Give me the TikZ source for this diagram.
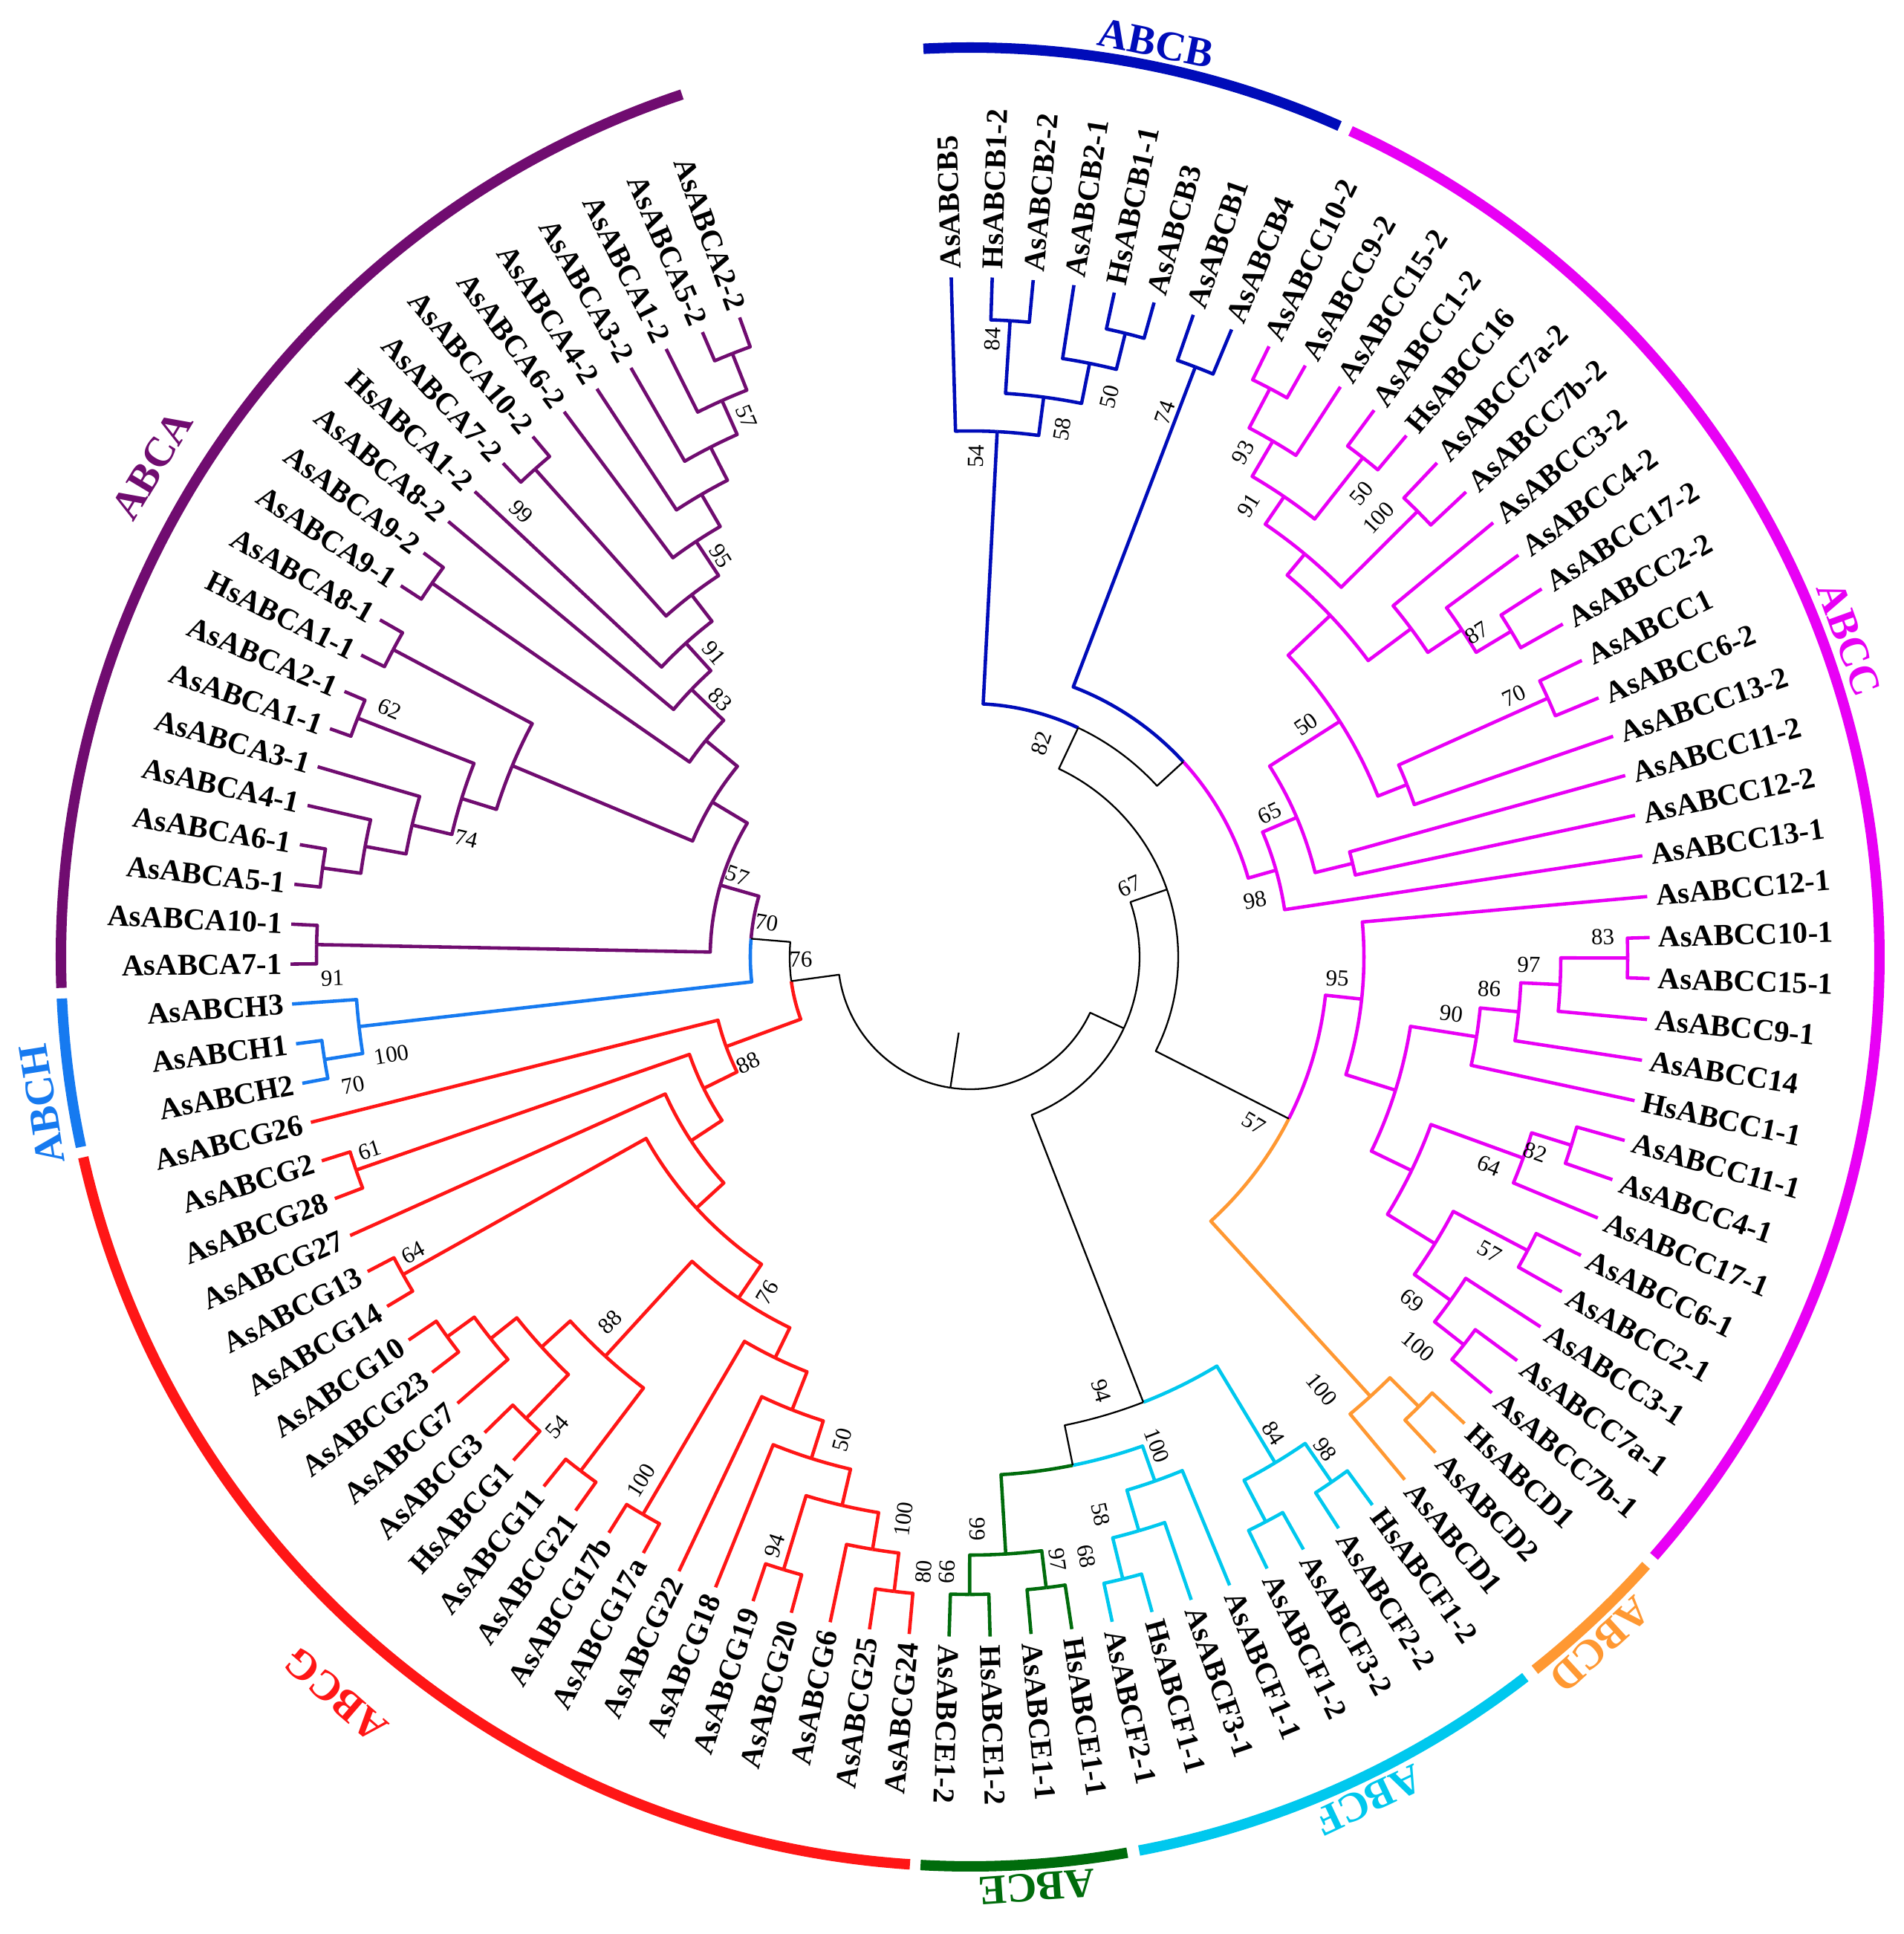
\documentclass[tikz,border=0pt]{standalone}
\usepackage{fontspec}
\setmainfont{Liberation Serif}
\definecolor{cA}{RGB}{112,12,112}
\definecolor{cB}{RGB}{0,12,185}
\definecolor{cC}{RGB}{232,0,245}
\definecolor{cD}{RGB}{255,152,50}
\definecolor{cE}{RGB}{0,108,12}
\definecolor{cF}{RGB}{0,200,238}
\definecolor{cG}{RGB}{255,22,22}
\definecolor{cH}{RGB}{22,122,240}
\newcommand\Sv[3]{\expandafter\xdef\csname #1-#2\endcsname{#3}}
\newcommand\Gv[2]{\csname #1-#2\endcsname}
\newcommand\Conn[2]{%
  \edef\pa{\Gv{ang}{#1}}\edef\pr{\Gv{rad}{#1}}%
  \edef\ca{\Gv{ang}{#2}}\edef\cra{\Gv{rad}{#2}}%
  \edef\cc{\Gv{col}{#2}}\edef\cw{\Gv{lw}{#2}}%
  \pgfmathsetmacro\prc{\pr/100}\pgfmathsetmacro\crc{\cra/100}%
  \draw[line width=\cw,color=\cc,line join=round] (\pa:\prc) arc[start angle=\pa,end angle=\ca,radius=\prc] -- (\ca:\crc);}
\newcommand\TN[5]{%
  \edef\ta{\Gv{ang}{#2}}\edef\tb{\Gv{ang}{#3}}%
  \pgfmathsetmacro\tm{((\ta)+(\tb))/2}%
  \Sv{ang}{#1}{\tm}\Sv{rad}{#1}{#4}\Sv{col}{#1}{#5}\Sv{lw}{#1}{1.3pt}%
  \Conn{#1}{#2}\Conn{#1}{#3}}
\newcommand\TK[4]{%
  \edef\ta{\Gv{ang}{#2}}\edef\tb{\Gv{ang}{#3}}%
  \pgfmathsetmacro\tm{((\ta)+(\tb))/2}%
  \Sv{ang}{#1}{\tm}\Sv{rad}{#1}{#4}\Sv{col}{#1}{black}\Sv{lw}{#1}{0.65pt}%
  \Conn{#1}{#2}\Conn{#1}{#3}}
\newcommand\LL[2]{%
  \edef\na{\Gv{ang}{L#1}}\edef\nr{\Gv{rad}{L#1}}%
  \pgfmathsetmacro\lr{((\nr)+11)/100}%
  \pgfmathtruncatemacro\flip{cos(\na)<-0.045 ? 1 : 0}%
  \ifnum\flip=1
    \pgfmathsetmacro\lrot{(\na)+180}%
    \node[lsf,rotate=\lrot,anchor=east] (leaf#1) at (\na:\lr) {#2};%
  \else
    \node[lsf,rotate=\na,anchor=west] (leaf#1) at (\na:\lr) {#2};%
  \fi}
\newcommand\BL[4]{%
  \edef\na{\Gv{ang}{#1}}\edef\nr{\Gv{rad}{#1}}%
  \pgfmathsetmacro\la{(\na)+(#3)}%
  \pgfmathsetmacro\lr{((\nr)-(#4))/100}%
  \pgfmathsetmacro\lrot{cos(\la)<-0.045 ? (\la)+180 : (\la)}%
  \node[bsf,rotate=\lrot] (bl-#1) at (\la:\lr) {#2};}
\newcommand\GA[6]{%
  \edef\ga{\Gv{ang}{L#1}}\edef\gb{\Gv{ang}{L#2}}%
  \pgfmathsetmacro\gs{(\ga)+1.35}\pgfmathsetmacro\gee{(\gb)-1.35}%
  \draw[line width=4pt,color=#3] (\gs:12.24) arc[start angle=\gs,end angle=\gee,radius=12.24];%
  \pgfmathsetmacro\gr{(#5)-90}\pgfmathsetmacro\glr{(#6)/100}%
  \node[gsf,text=#3,rotate=\gr] (gl-#4) at (#5:\glr) {#4};}
\tikzset{
  lsf/.style={font=\bfseries\fontsize{11.6}{12}\selectfont,inner sep=0pt},
  bsf/.style={font=\fontsize{8.8}{9}\selectfont,inner sep=0pt},
  gsf/.style={font=\bfseries\fontsize{16}{18}\selectfont,inner sep=0pt}
}
\begin{document}
\begin{tikzpicture}
\fill[white] (-13.06,-13.15) rectangle (12.57,12.88);
\useasboundingbox (-13.06,-13.15) rectangle (12.57,12.88);
% leaves
\foreach \i in {0,...,53}{\pgfmathsetmacro\aa{91.6-3.46*\i}\Sv{ang}{L\i}{\aa}}
\foreach \i in {54,...,100}{\pgfmathsetmacro\aa{-91.78-3.37*(\i-53)}\Sv{ang}{L\i}{\aa}}
\foreach \i in {0,...,100}{\Sv{rad}{L\i}{915}\Sv{lw}{L\i}{1.3pt}}
\foreach \i in {0,...,7}{\Sv{col}{L\i}{cB}}
\foreach \i in {8,...,38}{\Sv{col}{L\i}{cC}}
\foreach \i in {39,...,41}{\Sv{col}{L\i}{cD}}
\foreach \i in {42,...,49}{\Sv{col}{L\i}{cF}}
\foreach \i in {50,...,53}{\Sv{col}{L\i}{cE}}
\foreach \i in {54,...,75}{\Sv{col}{L\i}{cG}}
\foreach \i in {76,...,78}{\Sv{col}{L\i}{cH}}
\foreach \i in {79,...,100}{\Sv{col}{L\i}{cA}}
% ABCB
\TN{b84}{L1}{L2}{858}{cB}
\TN{b45}{L4}{L5}{865}{cB}
\TN{b50}{L3}{b45}{815}{cB}
\TN{b58}{b84}{b50}{760}{cB}
\TN{b54}{L0}{b58}{708}{cB}
\TN{b74}{L6}{L7}{850}{cB}
% ABCC upper
\TN{c1}{L8}{L9}{865}{cC}
\TN{c93}{c1}{L10}{805}{cC}
\TN{c50a}{L11}{L12}{855}{cC}
\TN{c91}{c93}{c50a}{750}{cC}
\TN{c100a}{L13}{L14}{850}{cC}
\TN{cm}{c91}{c100a}{705}{cC}
\TN{c3}{L17}{L18}{850}{cC}
\TN{c87p}{L16}{c3}{795}{cC}
\TN{c4}{L15}{c87p}{740}{cC}
\TN{cu}{cm}{c4}{668}{cC}
\TN{n70}{L19}{L20}{852}{cC}
\TN{nX}{n70}{L21}{632}{cC}
\TN{n50x}{cu}{nX}{590}{cC}
\TN{nZ}{L22}{L23}{530}{cC}
\TN{n65}{n50x}{nZ}{478}{cC}
\TN{n98}{n65}{L24}{428}{cC}
% ABCC lower
\TN{n83}{L26}{L27}{885}{cC}
\TN{n97}{n83}{L28}{795}{cC}
\TN{n86}{n97}{L29}{742}{cC}
\TN{n90}{n86}{L30}{690}{cC}
\TN{n82c}{L31}{L32}{848}{cC}
\TN{n64}{n82c}{L33}{792}{cC}
\TN{n57c}{L34}{L35}{848}{cC}
\TN{n100c}{L37}{L38}{845}{cC}
\TN{n69}{L36}{n100c}{795}{cC}
\TN{nlo}{n57c}{n69}{735}{cC}
\TN{nlo2}{n64}{nlo}{660}{cC}
\TN{Q}{n90}{nlo2}{600}{cC}
\TN{n95}{L25}{Q}{530}{cC}
% ABCD
\TN{d1}{L39}{L40}{855}{cD}
\TN{Droot}{d1}{L41}{800}{cD}
% ABCF / ABCE
\TN{f98}{L42}{L43}{858}{cF}
\TN{f2}{L44}{L45}{858}{cF}
\TN{f84}{f2}{f98}{795}{cF}
\TN{f68}{L48}{L49}{862}{cF}
\TN{f58}{f68}{L47}{805}{cF}
\TN{f100}{f58}{L46}{748}{cF}
\TN{e97}{L50}{L51}{855}{cE}
\TN{e99}{L52}{L53}{858}{cE}
\TN{Eroot}{e97}{e99}{805}{cE}
\TK{EF2}{Eroot}{f100}{698}
\TK{N94}{EF2}{f84}{643}
% ABCG
\TN{g80}{L54}{L55}{860}{cG}
\TN{g100b}{L56}{g80}{808}{cG}
\TN{g94}{L57}{L58}{862}{cG}
\TN{gb3}{g94}{g100b}{758}{cG}
\TN{g50}{L59}{gb3}{708}{cG}
\TN{gb5}{L60}{g50}{655}{cG}
\TN{g100a}{L61}{L62}{870}{cG}
\TN{g600}{g100a}{gb5}{600}{cG}
\TN{g54}{L65}{L66}{862}{cG}
\TN{ga3}{L68}{L69}{870}{cG}
\TN{ga4}{L67}{ga3}{825}{cG}
\TN{ga5}{g54}{ga4}{780}{cG}
\TN{ga6}{L63}{L64}{868}{cG}
\TN{g88}{ga5}{ga6}{728}{cG}
\TN{g76}{g88}{g600}{555}{cG}
\TN{g64}{L70}{L71}{875}{cG}
\TN{G3p}{g64}{g76}{500}{cG}
\TN{G2p}{L72}{G3p}{450}{cG}
\TN{g61}{L73}{L74}{875}{cG}
\TN{G1}{g61}{G2p}{400}{cG}
\TN{Groot}{L75}{G1}{350}{cG}
% ABCH
\TN{h70}{L76}{L77}{880}{cH}
\TN{Hroot}{L78}{h70}{828}{cH}
% ABCA
\TN{a91}{L79}{L80}{880}{cA}
\TN{a81}{L81}{L82}{880}{cA}
\TN{M2}{L83}{a81}{828}{cA}
\TN{M1}{L84}{M2}{772}{cA}
\TN{a62}{L85}{L86}{885}{cA}
\TN{N74}{a62}{M1}{717}{cA}
\TN{a87}{L87}{L88}{880}{cA}
\TN{X1}{a87}{N74}{668}{cA}
\TN{a89}{L89}{L90}{882}{cA}
\TN{c1A}{L99}{L100}{873}{cA}
\TN{c2A}{L98}{c1A}{820}{cA}
\TN{c3A}{L97}{c2A}{770}{cA}
\TN{c4A}{L96}{c3A}{720}{cA}
\TN{c5A}{L95}{c4A}{670}{cA}
\TN{a99}{L93}{L94}{880}{cA}
\TN{c6A}{a99}{c5A}{615}{cA}
\TN{c7A}{L92}{c6A}{570}{cA}
\TN{c8A}{L91}{c7A}{520}{cA}
\TN{Y}{a89}{c8A}{460}{cA}
\TN{X2}{X1}{Y}{405}{cA}
\TN{Aroot}{a91}{X2}{350}{cA}
% backbone
\TK{N70}{Aroot}{Hroot}{296}
\TK{R1}{N70}{Groot}{243}
\TK{N43}{b74}{n98}{389}
\TK{n82}{b54}{N43}{341}
\TK{N57}{n95}{Droot}{481}
\TK{n67}{n82}{N57}{280}
\TK{R2}{n67}{N94}{228}
\TK{Root}{R1}{R2}{178}
\edef\ra{\Gv{ang}{Root}}
\draw[black,line width=0.65pt] (\ra:1.03) -- (\ra:1.78);
% bootstrap values
\BL{b84}{84}{1.5}{26}\BL{b54}{54}{2.25}{34}\BL{b58}{58}{-2.4}{39}\BL{b50}{50}{-2.6}{38}\BL{b74}{74}{1.2}{72}
\BL{c93}{93}{2.0}{33}\BL{c50a}{50}{-2.0}{38}\BL{c91}{91}{2.6}{36}\BL{c100a}{100}{2.2}{43}\BL{c3}{87}{1.55}{40}
\BL{n70}{70}{1.5}{40}\BL{n50x}{50}{2.2}{40}\BL{n65}{65}{2.5}{31}\BL{n98}{98}{-4.5}{37}
\BL{n83}{83}{1.9}{33}\BL{n97}{97}{1.9}{43}\BL{n86}{86}{2.2}{42}\BL{n90}{90}{2.25}{38}
\BL{n82c}{82}{-1.7}{43}\BL{n64}{64}{-1.9}{39}\BL{n57c}{57}{-1.8}{44}\BL{n100c}{100}{-2.85}{46}\BL{n69}{69}{-2.3}{42}
\BL{n95}{95}{2.8}{35}\BL{Droot}{100}{-3.2}{50}\BL{N57}{57}{-3.5}{38}
\BL{f98}{98}{1.25}{41}\BL{f84}{84}{1.4}{35}\BL{f68}{68}{-2.8}{40}\BL{f58}{58}{-3.2}{34}\BL{f100}{100}{1.5}{44}
\BL{e97}{97}{1.4}{35}\BL{e99}{99}{-2.1}{30}\BL{Eroot}{99}{-2.7}{35}\BL{N94}{94}{-4.45}{33}
\BL{g80}{80}{2.5}{30}\BL{g100b}{100}{2.6}{46}\BL{g94}{94}{-1.45}{27}\BL{g50}{50}{2.7}{36}\BL{g100a}{100}{-1.75}{38}
\BL{g54}{54}{2.6}{20}\BL{g88}{88}{-2.2}{38}\BL{g76}{76}{3}{27}\BL{g64}{64}{-1.3}{26}\BL{g61}{61}{-1.3}{26}\BL{Groot}{88}{5.4}{19}
\BL{h70}{70}{2.7}{32}\BL{Hroot}{100}{3.1}{38}
\BL{a91}{91}{3.0}{21}\BL{a62}{62}{-1.8}{35}\BL{N74}{74}{4.1}{20}
\BL{c2A}{57}{-1.5}{33}\BL{c5A}{95}{-1.5}{34}\BL{c7A}{91}{-2}{35}\BL{c8A}{83}{-2}{37}\BL{a99}{99}{3.5}{29}
\BL{Aroot}{57}{-3.2}{18}\BL{N70}{70}{-4.8}{18}\BL{R1}{76}{-6.9}{15}\BL{n82}{82}{6.7}{38}\BL{n67}{67}{5}{45}
% leaf labels
\foreach \i/\lbl in {0/AsABCB5,1/HsABCB1-2,2/AsABCB2-2,3/AsABCB2-1,4/HsABCB1-1,5/AsABCB3,6/AsABCB1,7/AsABCB4,8/AsABCC10-2,9/AsABCC9-2,10/AsABCC15-2,11/AsABCC1-2,12/HsABCC16,13/AsABCC7a-2,14/AsABCC7b-2,15/AsABCC3-2,16/AsABCC4-2,17/AsABCC17-2,18/AsABCC2-2,19/AsABCC1,20/AsABCC6-2,21/AsABCC13-2,22/AsABCC11-2,23/AsABCC12-2,24/AsABCC13-1,25/AsABCC12-1,26/AsABCC10-1,27/AsABCC15-1,28/AsABCC9-1,29/AsABCC14,30/HsABCC1-1,31/AsABCC11-1,32/AsABCC4-1,33/AsABCC17-1,34/AsABCC6-1,35/AsABCC2-1,36/AsABCC3-1,37/AsABCC7a-1,38/AsABCC7b-1,39/HsABCD1,40/AsABCD2,41/AsABCD1,42/HsABCF1-2,43/AsABCF2-2,44/AsABCF3-2,45/AsABCF1-2,46/AsABCF1-1,47/AsABCF3-1,48/HsABCF1-1,49/AsABCF2-1,50/HsABCE1-1,51/AsABCE1-1,52/HsABCE1-2,53/AsABCE1-2,54/AsABCG24,55/AsABCG25,56/AsABCG6,57/AsABCG20,58/AsABCG19,59/AsABCG18,60/AsABCG22,61/AsABCG17a,62/AsABCG17b,63/AsABCG21,64/AsABCG11,65/HsABCG1,66/AsABCG3,67/AsABCG7,68/AsABCG23,69/AsABCG10,70/AsABCG14,71/AsABCG13,72/AsABCG27,73/AsABCG28,74/AsABCG2,75/AsABCG26,76/AsABCH2,77/AsABCH1,78/AsABCH3,79/AsABCA7-1,80/AsABCA10-1,81/AsABCA5-1,82/AsABCA6-1,83/AsABCA4-1,84/AsABCA3-1,85/AsABCA1-1,86/AsABCA2-1,87/HsABCA1-1,88/AsABCA8-1,89/AsABCA9-1,90/AsABCA9-2,91/AsABCA8-2,92/HsABCA1-2,93/AsABCA7-2,94/AsABCA10-2,95/AsABCA6-2,96/AsABCA4-2,97/AsABCA3-2,98/AsABCA1-2,99/AsABCA5-2,100/AsABCA2-2}{\LL{\i}{\lbl}}
% group arcs
\GA{0}{7}{cB}{ABCB}{78.5}{1255}
\GA{8}{38}{cC}{ABCC}{19.9}{1258}
\GA{39}{41}{cD}{ABCD}{-47.5}{1255}
\GA{42}{49}{cF}{ABCF}{-64.7}{1255}
\GA{50}{53}{cE}{ABCE}{-85.9}{1255}
\GA{54}{75}{cG}{ABCG}{-130.7}{1310}
\GA{76}{78}{cH}{ABCH}{189}{1265}
\GA{79}{100}{cA}{ABCA}{149}{1285}
\end{tikzpicture}
\end{document}
